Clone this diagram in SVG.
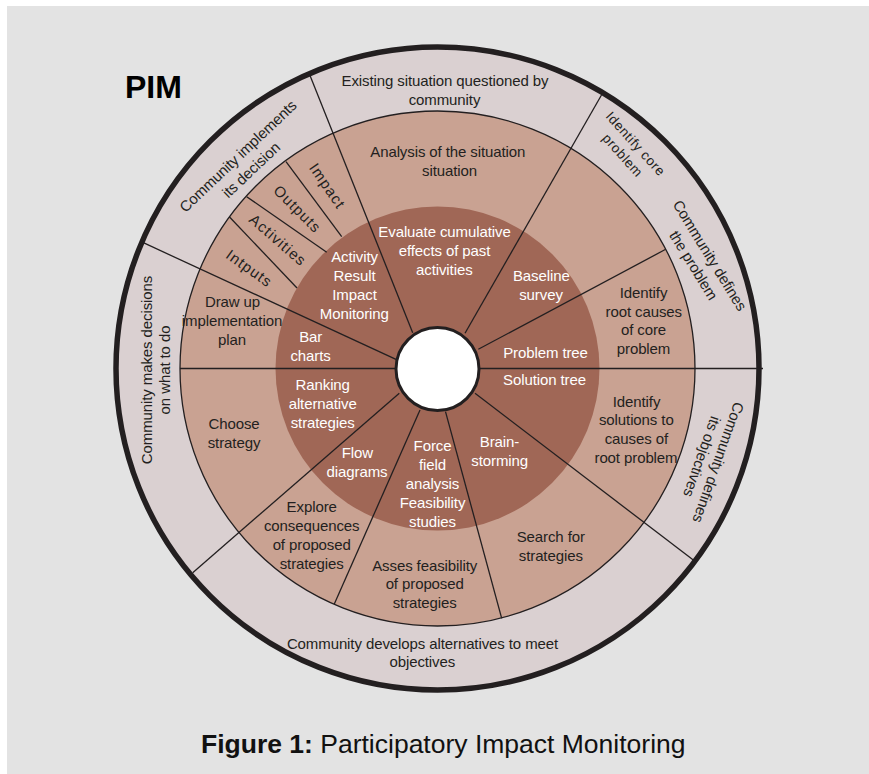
<svg xmlns="http://www.w3.org/2000/svg" width="869" height="774" viewBox="0 0 869 774">
  <style>
    text { font-family: "Liberation Sans", Arial, Helvetica, sans-serif; font-size: 15px; fill: #231f20; text-anchor: middle; letter-spacing: -0.1px; }
    .w { fill: #ffffff; }
    .sub { letter-spacing: 1.1px; }
    .small { font-size: 13.5px; letter-spacing: 0.6px; }
    .ln { stroke: #231f20; stroke-width: 1.3; fill: none; stroke-linecap: butt; }
  </style>

  <!-- page background -->
  <rect x="7" y="6" width="862" height="768" fill="#e3e3e3"/>

  <!-- concentric rings -->
  <g id="rings">
    <circle cx="437.5" cy="368.5" r="321.5" fill="#dad0d1" stroke="#231f20" stroke-width="5.5"/>
    <circle cx="437.5" cy="368.5" r="257.5" fill="#c9a292" stroke="#231f20" stroke-width="1.3"/>
    <circle cx="437.5" cy="368.5" r="162" fill="#a06756"/>
  </g>

  <!-- dividing lines -->
  <g id="connectors">
    <line class="ln" x1="180" y1="368.5" x2="400" y2="368.5" stroke-width="1.7"/>
    <line class="ln" x1="476" y1="368.5" x2="763" y2="368.5" stroke-width="1.7"/>
    <line class="ln" x1="143.3" y1="242.7" x2="396" y2="359.3"/>
    <line class="ln" x1="310" y1="75.5" x2="412.7" y2="332.7"/>
    <line class="ln" x1="601.5" y1="95" x2="465" y2="333.3"/>
    <line class="ln" x1="665.7" y1="249.3" x2="478.3" y2="349.3"/>
    <line class="ln" x1="475" y1="393.3" x2="693.3" y2="560"/>
    <line class="ln" x1="445.5" y1="411.7" x2="501.7" y2="618.3"/>
    <line class="ln" x1="420" y1="410" x2="334.3" y2="604"/>
    <line class="ln" x1="399.3" y1="393.3" x2="192.7" y2="572.7"/>
    <line class="ln" x1="286" y1="161.7" x2="341.7" y2="236.7"/>
    <line class="ln" x1="246.7" y1="196.7" x2="326.7" y2="252.3"/>
    <line class="ln" x1="229.3" y1="216.7" x2="297" y2="288"/>
  </g>

  <!-- hub -->
  <g id="hub">
    <circle cx="437.5" cy="369" r="41.5" fill="#ffffff" stroke="#231f20" stroke-width="3"/>
  </g>

  <!-- outer ring: community stages -->
  <g id="existing-situation">
    <text x="445" y="86">Existing situation questioned by</text>
    <text x="444.5" y="105">community</text>
  </g>
  <g id="implements-decision">
    <text transform="translate(244.5,163) rotate(-43.5)"><tspan x="0" y="-4.25">Community implements</tspan><tspan x="0" y="14.75">its decision</tspan></text>
  </g>
  <g id="makes-decisions">
    <text transform="translate(151.5,370) rotate(-90)"><tspan x="0" y="0">Community makes decisions</tspan><tspan x="0" y="18.5">on what to do</tspan></text>
  </g>
  <g id="develops-alternatives">
    <text x="422.5" y="649.3">Community develops alternatives to meet</text>
    <text x="422.3" y="667">objectives</text>
  </g>
  <g id="defines-objectives">
    <text transform="translate(710.2,459.6) rotate(109.5)"><tspan x="0" y="-3.4">Community defines</tspan><tspan x="0" y="13.9">its objectives</tspan></text>
  </g>
  <g id="defines-problem">
    <text transform="translate(701.7,260.4) rotate(58.4)"><tspan x="0" y="-4.3">Community defines</tspan><tspan x="0" y="14.8">the problem</tspan></text>
  </g>
  <g id="identify-core-problem">
    <text class="small" transform="translate(629.2,149.5) rotate(48)"><tspan x="0" y="-3.9">Identify core</tspan><tspan x="0" y="13.4">problem</tspan></text>
  </g>

  <!-- middle ring: activities -->
  <g id="analysis">
    <text x="447.8" y="156.7">Analysis of the situation</text>
    <text x="449.5" y="175.7">situation</text>
  </g>
  <g id="impact">
    <text class="sub" transform="translate(327.5,186) rotate(55.7)" dy="0.35em">Impact</text>
  </g>
  <g id="outputs">
    <text class="sub" transform="translate(297.5,209) rotate(45)" dy="0.35em">Outputs</text>
  </g>
  <g id="activities">
    <text class="sub" transform="translate(278,240) rotate(41)" dy="0.35em">Activities</text>
  </g>
  <g id="inputs">
    <text class="sub" transform="translate(249.3,268.3) rotate(35.7)" dy="0.35em">Intputs</text>
  </g>
  <g id="implementation-plan">
    <text x="232.5" y="306.7">Draw up</text>
    <text x="232" y="326">implementation</text>
    <text x="232" y="345">plan</text>
  </g>
  <g id="root-causes">
    <text x="643.5" y="298">Identify</text>
    <text x="643.8" y="316.7">root causes</text>
    <text x="643.5" y="335">of core</text>
    <text x="643.5" y="354">problem</text>
  </g>
  <g id="choose-strategy">
    <text x="234" y="429">Choose</text>
    <text x="234" y="448.3">strategy</text>
  </g>
  <g id="explore-consequences">
    <text x="311.7" y="511.7">Explore</text>
    <text x="311.7" y="531">consequences</text>
    <text x="311.7" y="550">of proposed</text>
    <text x="311.7" y="569.3">strategies</text>
  </g>
  <g id="assess-feasibility">
    <text x="424.7" y="570.7">Asses feasibility</text>
    <text x="424.7" y="589.3">of proposed</text>
    <text x="424.7" y="608.3">strategies</text>
  </g>
  <g id="search-strategies">
    <text x="550.8" y="542">Search for</text>
    <text x="550.8" y="561">strategies</text>
  </g>
  <g id="identify-solutions">
    <text x="636.5" y="407">Identify</text>
    <text x="636.3" y="425.3">solutions to</text>
    <text x="636.3" y="444.3">causes of</text>
    <text x="636" y="462.5">root problem</text>
  </g>

  <!-- inner ring: tools -->
  <g id="evaluate-effects">
    <text class="w" x="444.5" y="236.7">Evaluate cumulative</text>
    <text class="w" x="444.5" y="256">effects of past</text>
    <text class="w" x="444.3" y="275">activities</text>
  </g>
  <g id="monitoring">
    <text class="w" x="354.5" y="261.7">Activity</text>
    <text class="w" x="354.5" y="281">Result</text>
    <text class="w" x="354.5" y="300">Impact</text>
    <text class="w" x="354.3" y="319.3">Monitoring</text>
  </g>
  <g id="bar-charts">
    <text class="w" x="310.7" y="341.7">Bar</text>
    <text class="w" x="310.5" y="361">charts</text>
  </g>
  <g id="baseline-survey">
    <text class="w" x="541.3" y="280.7">Baseline</text>
    <text class="w" x="541" y="300">survey</text>
  </g>
  <g id="problem-tree">
    <text class="w" x="545.5" y="357.7">Problem tree</text>
  </g>
  <g id="solution-tree">
    <text class="w" x="544.5" y="385">Solution tree</text>
  </g>
  <g id="ranking">
    <text class="w" x="322.7" y="390.3">Ranking</text>
    <text class="w" x="322.7" y="409.3">alternative</text>
    <text class="w" x="322.7" y="428.3">strategies</text>
  </g>
  <g id="flow-diagrams">
    <text class="w" x="357.3" y="457.7">Flow</text>
    <text class="w" x="357" y="476.7">diagrams</text>
  </g>
  <g id="force-field">
    <text class="w" x="432.5" y="450.7">Force</text>
    <text class="w" x="432.5" y="470">field</text>
    <text class="w" x="432.5" y="489">analysis</text>
    <text class="w" x="432.5" y="508.3">Feasibility</text>
    <text class="w" x="432.5" y="527.3">studies</text>
  </g>
  <g id="brainstorming">
    <text class="w" x="499.5" y="446.5">Brain-</text>
    <text class="w" x="499.7" y="465.5">storming</text>
  </g>

  <!-- headings -->
  <g id="title">
    <text x="125" y="98" style="font-size:32px;font-weight:bold;text-anchor:start;fill:#000;letter-spacing:0">PIM</text>
  </g>
  <g id="caption">
    <text x="201" y="753" style="font-size:26.5px;text-anchor:start;fill:#111;letter-spacing:0"><tspan font-weight="bold">Figure 1:</tspan> Participatory Impact Monitoring</text>
  </g>
</svg>
